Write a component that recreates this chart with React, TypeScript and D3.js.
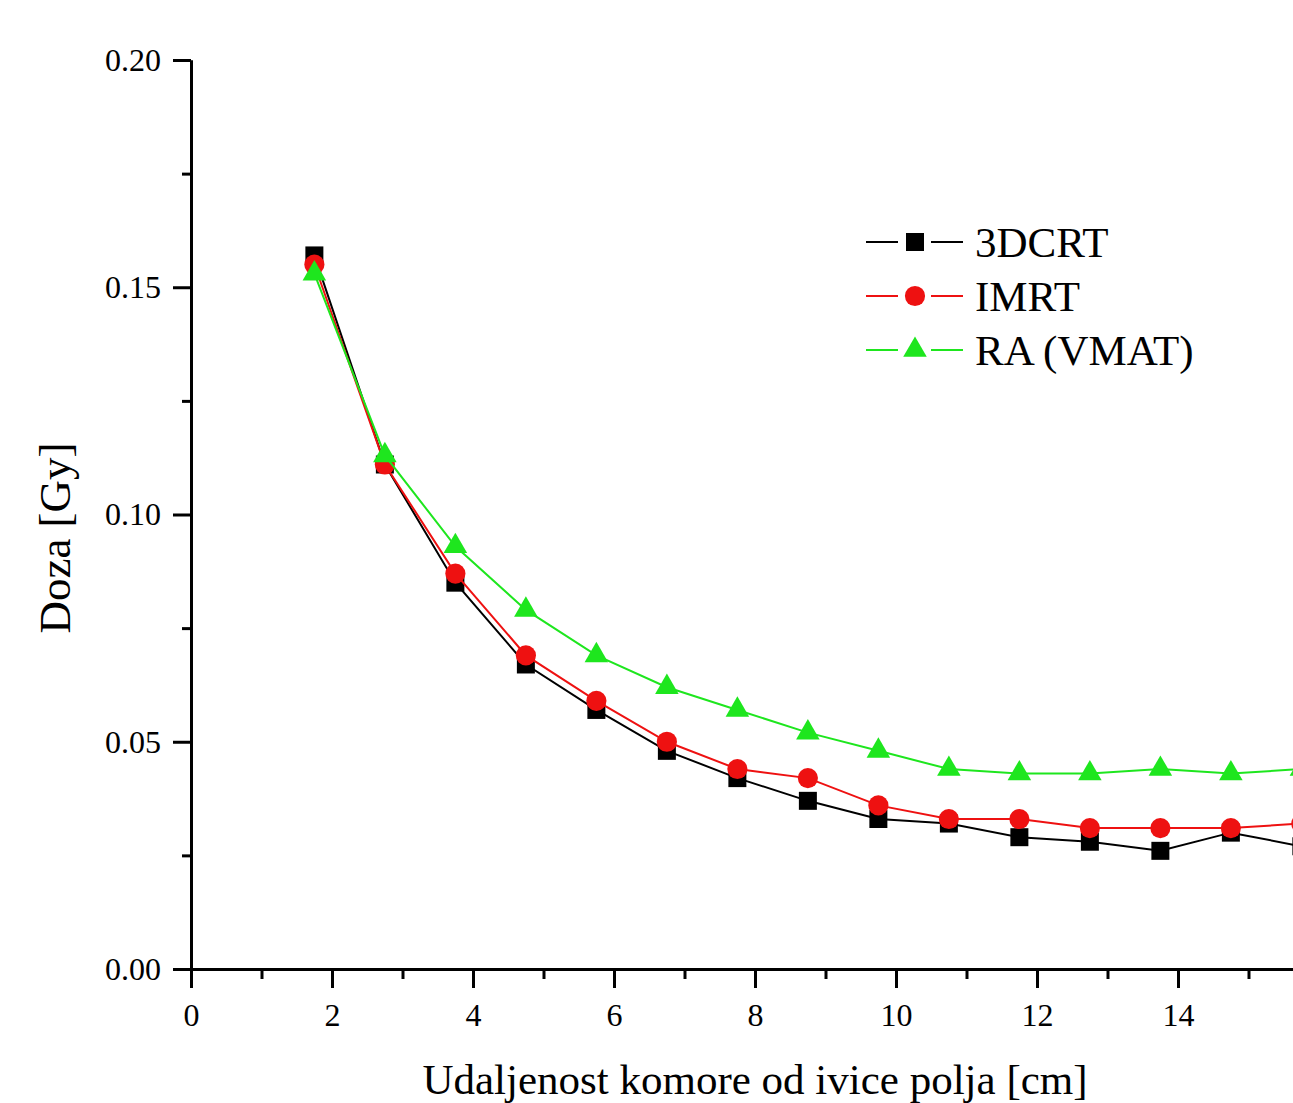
import React, { useEffect, useRef } from 'react';
import * as d3 from 'd3';

// distance of the chamber from the field edge [cm]
const distances = [1.75, 2.75, 3.75, 4.75, 5.75, 6.75, 7.75, 8.75, 9.75, 10.75, 11.75, 12.75, 13.75, 14.75, 15.75];

const dose3DCRT = [0.157, 0.111, 0.085, 0.067, 0.057, 0.048, 0.042, 0.037, 0.033, 0.032, 0.029, 0.028, 0.026, 0.030, 0.027];
const doseIMRT = [0.155, 0.111, 0.087, 0.069, 0.059, 0.050, 0.044, 0.042, 0.036, 0.033, 0.033, 0.031, 0.031, 0.031, 0.032];
const doseVMAT = [0.153, 0.113, 0.093, 0.079, 0.069, 0.062, 0.057, 0.052, 0.048, 0.044, 0.043, 0.043, 0.044, 0.043, 0.044];

const seriesNames = ['3DCRT', 'IMRT', 'RA (VMAT)'];
const seriesColors = ['#000000', '#ee1111', '#1ee61e'];
const seriesSymbols = [d3.symbolSquare, d3.symbolCircle, d3.symbolTriangle];
const symbolSizes = [324, 320, 240];

const xMajorTicks = [0, 2, 4, 6, 8, 10, 12, 14];
const xMinorTicks = [1, 3, 5, 7, 9, 11, 13, 15];
const yMajorTicks = [0, 0.05, 0.1, 0.15, 0.2];
const yMinorTicks = [0.025, 0.075, 0.125, 0.175];

const xTitle = 'Udaljenost komore od ivice polja [cm]';
const yTitle = 'Doza [Gy]';

const WIDTH = 1293;
const HEIGHT = 1103;
const FONT = '"Liberation Serif", "Times New Roman", serif';

const DoseChart = () => {
  const svgRef = useRef(null);

  useEffect(() => {
    const svg = d3.select(svgRef.current);
    svg.selectAll('*').remove();

    const x = d3.scaleLinear().domain([0, 16]).range([191, 1319]);
    const y = d3.scaleLinear().domain([0, 0.2]).range([969, 60]);

    const styleAxis = (g, showLabels) => {
      g.select('.domain').attr('stroke', '#000').attr('stroke-width', 3);
      g.selectAll('.tick line').attr('stroke', '#000').attr('stroke-width', 3);
      g.attr('font-family', FONT).attr('font-size', 32);
      g.selectAll('.tick text').attr('fill', '#000');
      if (!showLabels) g.selectAll('.tick text').remove();
    };

    // x axis
    svg.append('g')
      .attr('transform', `translate(0,${y(0)})`)
      .call(d3.axisBottom(x).tickValues(xMinorTicks).tickSize(10).tickSizeOuter(0))
      .call(g => styleAxis(g, false));
    svg.append('g')
      .attr('transform', `translate(0,${y(0)})`)
      .call(d3.axisBottom(x).tickValues(xMajorTicks).tickSize(19).tickSizeOuter(0).tickPadding(15).tickFormat(d3.format('d')))
      .call(g => styleAxis(g, true));

    // y axis
    svg.append('g')
      .attr('transform', `translate(${x(0)},0)`)
      .call(d3.axisLeft(y).tickValues(yMinorTicks).tickSize(9).tickSizeOuter(0))
      .call(g => styleAxis(g, false));
    svg.append('g')
      .attr('transform', `translate(${x(0)},0)`)
      .call(d3.axisLeft(y).tickValues(yMajorTicks).tickSize(18).tickSizeOuter(0).tickPadding(12).tickFormat(d3.format('.2f')))
      .call(g => styleAxis(g, true));

    // axis titles
    svg.append('text')
      .attr('x', 755)
      .attr('y', 1094)
      .attr('text-anchor', 'middle')
      .attr('font-family', FONT)
      .attr('font-size', 43)
      .attr('fill', '#000')
      .text(xTitle);

    svg.append('text')
      .attr('transform', 'translate(70,538) rotate(-90)')
      .attr('text-anchor', 'middle')
      .attr('font-family', FONT)
      .attr('font-size', 45)
      .attr('fill', '#000')
      .text(yTitle);

    // series
    const allSeries = [dose3DCRT, doseIMRT, doseVMAT];
    const line = d3.line()
      .x(d => x(d[0]))
      .y(d => y(d[1]));

    allSeries.forEach((values, i) => {
      const pts = distances.map((d, j) => [d, values[j]]);
      const g = svg.append('g');
      g.append('path')
        .datum(pts)
        .attr('d', line)
        .attr('fill', 'none')
        .attr('stroke', seriesColors[i])
        .attr('stroke-width', 2);
      g.selectAll('path.mark')
        .data(pts)
        .join('path')
        .attr('class', 'mark')
        .attr('transform', d => `translate(${x(d[0])},${y(d[1])})`)
        .attr('d', d3.symbol().type(seriesSymbols[i]).size(symbolSizes[i]))
        .attr('fill', seriesColors[i]);
    });

    // legend
    const legend = svg.append('g');
    seriesNames.forEach((name, i) => {
      const cy = 242 + i * 54;
      const row = legend.append('g');
      row.append('line')
        .attr('x1', 866).attr('x2', 898).attr('y1', cy).attr('y2', cy)
        .attr('stroke', seriesColors[i]).attr('stroke-width', 2);
      row.append('line')
        .attr('x1', 931).attr('x2', 963).attr('y1', cy).attr('y2', cy)
        .attr('stroke', seriesColors[i]).attr('stroke-width', 2);
      row.append('path')
        .attr('transform', `translate(915,${cy})`)
        .attr('d', d3.symbol().type(seriesSymbols[i]).size(symbolSizes[i]))
        .attr('fill', seriesColors[i]);
      row.append('text')
        .attr('x', 975)
        .attr('y', cy + 15)
        .attr('font-family', FONT)
        .attr('font-size', 43)
        .attr('fill', '#000')
        .text(name);
    });
  }, []);

  return (
    <svg
      ref={svgRef}
      width={WIDTH}
      height={HEIGHT}
      style={{ position: 'absolute', left: 0, top: 0, background: '#fff' }}
    />
  );
};

export default function App() {
  return <DoseChart />;
}
